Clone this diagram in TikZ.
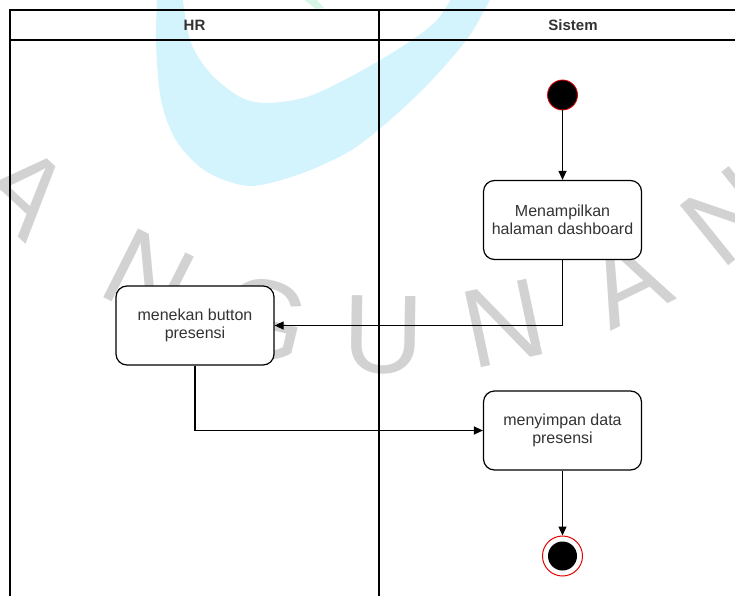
\documentclass[tikz,border=0pt]{standalone}
\usepackage{fontspec}
\setmainfont{Liberation Sans}
\usetikzlibrary{calc,arrows.meta}
\definecolor{wmcyan}{HTML}{D3F4FD}
\definecolor{wmgreen}{HTML}{D8F6E6}
\definecolor{wmgray}{HTML}{D2D2D2}
\definecolor{txt}{HTML}{333333}
\definecolor{startred}{HTML}{E60000}

\begin{document}
\begin{tikzpicture}[x=1pt,y=-1pt,
  lane/.style={line width=1.3pt, draw=black},
  action/.style={draw=black, fill=white, line width=1.2pt, rounded corners=11pt,
    minimum width=158pt, minimum height=79pt, inner sep=0pt, align=center,
    text=txt, font=\fontsize{16}{18.5}\selectfont},
  flow/.style={line width=1.2pt, -{Triangle[length=9pt,width=8pt]}},
  laneTitle/.style={font=\bfseries\fontsize{15}{18}\selectfont, text=txt, inner sep=0pt},
  wm/.style={text=wmgray, inner sep=0pt, font=\fontsize{112}{112}\selectfont}]
\useasboundingbox (0,0) rectangle (735,596);
\clip (0,0) rectangle (735,596);
\fill[white] (0,0) rectangle (735,596);

% background logo mark
\fill[wmcyan] plot[smooth] coordinates {(158,-20) (156,40) (161,100) (177,142) (207,172)
    (250,186) (300,174) (350,151) (390,120) (430,82) (470,35) (500,-20)}
  -- plot[smooth] coordinates {(462,-20) (437,20) (400,48) (350,77) (307,97) (267,103)
    (240,97) (210,73) (190,40) (180,-20)} -- cycle;
\fill[wmgreen] (298,-5) -- (312,-5) -- (324,8) -- (316,9) -- cycle;

% background lettering on an arc
\foreach \ch/\ang [count=\i] in {B/144.5,A/133,N/116.8,G/103.8,U/90.9,N/78,A/64.1,N/51.2}{
  \pgfmathsetmacro{\rot}{90-\ang}
  \node[wm, rotate=\rot] (wm\i) at ($(392,-203)+(\ang:538)$) {\ch};
}

% swimlanes
\draw[lane] (10,600) -- (10,10) -- (767,10);
\draw[lane] (10,40) -- (767,40);
\draw[lane] (379,10) -- (379,600);
\node[laneTitle] (hr) at (194.5,25) {HR};
\node[laneTitle] (sys) at (573,25) {Sistem};

% activities
\node[circle, fill=black, draw=startred, line width=0.8pt, minimum size=30pt, inner sep=0pt] (start) at (562.5,95) {};
\node[action] (show) at (562.5,220) {Menampilkan\\halaman dashboard};
\node[action] (press) at (195,325.5) {menekan button\\presensi};
\node[action] (save) at (562.5,430.5) {menyimpan data\\presensi};
\node[circle, draw=startred, fill=white, line width=1pt, minimum size=40pt, inner sep=0pt] (final) at (562.5,556) {};
\node[circle, fill=black, minimum size=29pt, inner sep=0pt] (finalDot) at (final.center) {};

% control flow
\draw[flow] (start) -- (show);
\draw[flow] (show.south) |- (press.east);
\draw[flow] (press.south) |- (save.west);
\draw[flow] (save) -- (final);
\end{tikzpicture}
\end{document}
